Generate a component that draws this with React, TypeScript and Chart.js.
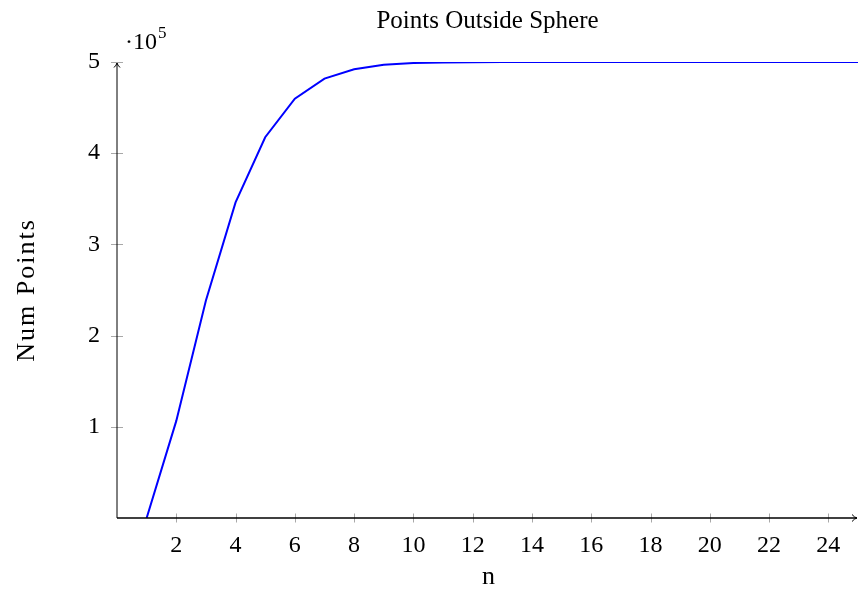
import React, { useEffect, useRef } from 'react';
import { Chart, registerables } from 'chart.js';

Chart.register(...registerables);

const nValues = [1, 2, 3, 4, 5, 6, 7, 8, 9, 10, 11, 12, 13, 14, 15, 16, 17, 18, 19, 20, 21, 22, 23, 24, 25];
const numPoints = [
  0, 106500, 238500, 346000, 417500, 459700, 481800, 492000, 497000, 498800,
  499550, 499840, 499945, 499980, 499994, 499998, 500000, 500000, 500000, 500000,
  500000, 500000, 500000, 500000, 500000,
];
const xTickValues = [2, 4, 6, 8, 10, 12, 14, 16, 18, 20, 22, 24];
const yTickValues = [100000, 200000, 300000, 400000, 500000];
const titleText = 'Points Outside Sphere';
const xLabel = 'n';
const yLabel = 'Num Points';
const yScaleText = '·10';
const yScaleExp = '5';

const FONT = '"Liberation Serif", "Times New Roman", serif';

export default function App() {
  const ref = useRef<HTMLCanvasElement>(null);

  useEffect(() => {
    document.body.style.margin = '0';
    const canvas = ref.current;
    if (!canvas) return;

    const pgfPlugin = {
      id: 'pgfAxes',
      afterDraw(chart: any) {
        const ctx = chart.ctx as any;
        const xs = chart.scales.x;
        const ys = chart.scales.y;
        const area = chart.chartArea;
        const x0 = Math.round(xs.getPixelForValue(0));
        const y0 = Math.round(ys.getPixelForValue(0));
        const yTop = ys.getPixelForValue(500000);
        const xEnd = chart.width - 1;
        ctx.save();
        // tick marks
        ctx.strokeStyle = '#a8a8a8';
        ctx.lineWidth = 1;
        xTickValues.forEach((v) => {
          const px = Math.round(xs.getPixelForValue(v)) + 0.5;
          ctx.beginPath();
          ctx.moveTo(px, y0 - 4.5);
          ctx.lineTo(px, y0 + 4.5);
          ctx.stroke();
        });
        yTickValues.forEach((v) => {
          const py = Math.round(ys.getPixelForValue(v)) + 0.5;
          ctx.beginPath();
          ctx.moveTo(x0 - 6, py);
          ctx.lineTo(x0 + 6, py);
          ctx.stroke();
        });
        // axes
        ctx.strokeStyle = '#000';
        ctx.lineWidth = 1;
        ctx.beginPath();
        ctx.moveTo(x0, y0);
        ctx.lineTo(x0, yTop + 1);
        ctx.stroke();
        ctx.beginPath();
        ctx.moveTo(x0 - 3, yTop + 5.5);
        ctx.quadraticCurveTo(x0 - 0.5, yTop + 3, x0, yTop + 1);
        ctx.quadraticCurveTo(x0 + 0.5, yTop + 3, x0 + 3, yTop + 5.5);
        ctx.stroke();

        ctx.lineWidth = 1.4;
        ctx.beginPath();
        ctx.moveTo(x0, y0);
        ctx.lineTo(xEnd, y0);
        ctx.stroke();
        ctx.lineWidth = 1;
        ctx.beginPath();
        ctx.moveTo(xEnd - 5, y0 - 3.5);
        ctx.quadraticCurveTo(xEnd - 2.5, y0 - 0.5, xEnd, y0);
        ctx.quadraticCurveTo(xEnd - 2.5, y0 + 0.5, xEnd - 5, y0 + 3.5);
        ctx.stroke();

        // title
        ctx.fillStyle = '#000';
        ctx.textAlign = 'center';
        ctx.textBaseline = 'alphabetic';
        ctx.font = `25px ${FONT}`;
        ctx.letterSpacing = '0px';
        ctx.fillText(titleText, (area.left + area.right) / 2, 28);

        // x label
        ctx.font = `26px ${FONT}`;
        ctx.fillText(xLabel, (area.left + area.right) / 2 + 1, 583.5);

        // y label
        ctx.save();
        ctx.translate(34, (area.top + area.bottom) / 2);
        ctx.rotate(-Math.PI / 2);
        ctx.font = `26px ${FONT}`;
        ctx.letterSpacing = '2px';
        ctx.fillText(yLabel, 0, 0);
        ctx.restore();

        // scale factor label
        ctx.letterSpacing = '0px';
        ctx.textAlign = 'left';
        ctx.font = `24px ${FONT}`;
        ctx.fillText(yScaleText, area.left + 8, area.top - 13);
        const w = ctx.measureText(yScaleText).width;
        ctx.font = `17px ${FONT}`;
        ctx.fillText(yScaleExp, area.left + 8 + w + 1, area.top - 24);
        ctx.restore();
      },
    };

    const tickFont = { family: FONT, size: 24, weight: 'normal' as const };

    const chart = new Chart(canvas, {
      type: 'line',
      data: {
        datasets: [
          {
            data: nValues.map((n, i) => ({ x: n, y: numPoints[i] })),
            borderColor: '#0000ff',
            borderWidth: 2,
            pointRadius: 0,
            tension: 0,
            fill: false,
          },
        ],
      },
      options: {
        animation: false,
        responsive: false,
        maintainAspectRatio: false,
        layout: { padding: { left: 0, right: -3, top: 62, bottom: 0 } },
        plugins: {
          legend: { display: false },
          tooltip: { enabled: false },
          title: { display: false },
        },
        scales: {
          x: {
            type: 'linear',
            min: 0,
            max: 25,
            afterBuildTicks: (s: any) => {
              s.ticks = xTickValues.map((v) => ({ value: v }));
            },
            afterFit: (s: any) => {
              s.height = 71;
            },
            grid: { display: false, drawTicks: false },
            border: { display: false },
            ticks: {
              color: '#000',
              font: tickFont,
              padding: 13,
              maxRotation: 0,
              autoSkip: false,
            },
            title: { display: false },
          },
          y: {
            type: 'linear',
            min: 0,
            max: 500000,
            afterBuildTicks: (s: any) => {
              s.ticks = yTickValues.map((v) => ({ value: v }));
            },
            afterFit: (s: any) => {
              s.width = 117;
            },
            grid: { display: false, drawTicks: false },
            border: { display: false },
            ticks: {
              color: '#000',
              font: tickFont,
              padding: 17,
              autoSkip: false,
              callback: (v: any) => String(Number(v) / 100000),
            },
            title: { display: false },
          },
        },
      },
      plugins: [pgfPlugin],
    });

    return () => chart.destroy();
  }, []);

  return <canvas ref={ref} width={858} height={589} style={{ display: 'block' }} />;
}
